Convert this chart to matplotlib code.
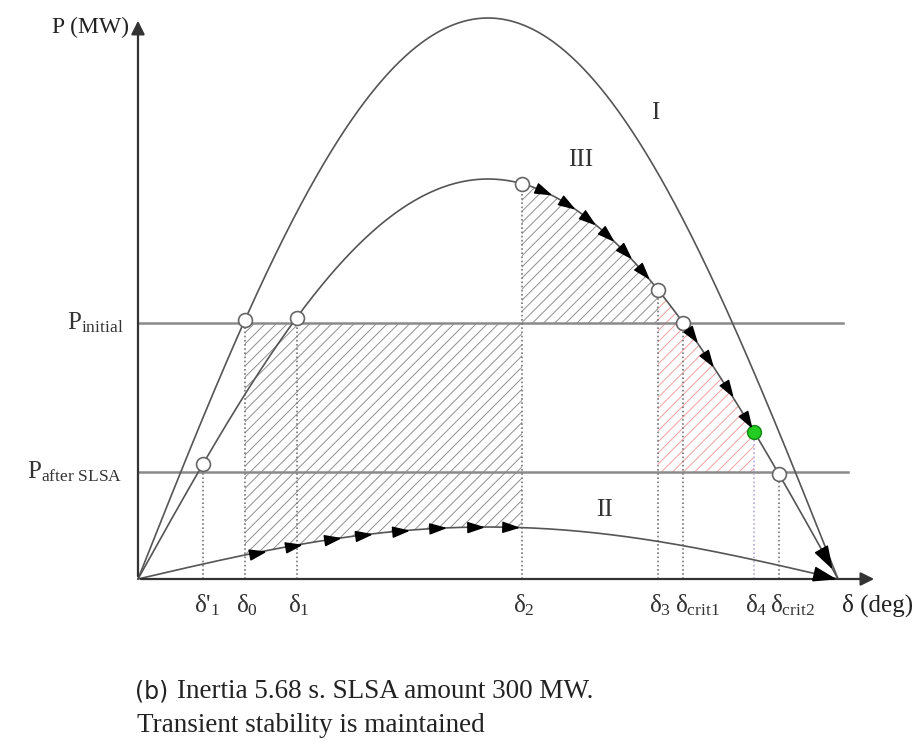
import numpy as np
import matplotlib
matplotlib.use('Agg')
import matplotlib.pyplot as plt
from matplotlib.markers import MarkerStyle
from matplotlib.transforms import Affine2D

plt.rcParams['font.family'] = ['Liberation Serif', 'DejaVu Serif']
plt.rcParams['mathtext.fontset'] = 'custom'
plt.rcParams['mathtext.rm'] = 'Liberation Serif'
plt.rcParams['mathtext.it'] = 'Liberation Serif'
plt.rcParams['hatch.linewidth'] = 0.7

# power-angle curves (peak powers, MW) and power levels
p_max_I = 561
p_max_III = 400
p_max_II = 52
p_initial = 256
p_after = 107

# angles (deg)
delta_names = ["δ'$_1$", "δ$_0$", "δ$_1$", "δ$_2$", "δ$_3$", "δ$_\\mathrm{crit1}$", "δ$_4$", "δ$_\\mathrm{crit2}$"]
delta_vals = [16.7, 27.5, 40.8, 98.7, 133.7, 140.2, 158.4, 164.8]
# which curve each marked point sits on
delta_curve = ['III', 'I', 'III', 'III', 'III', 'III', 'III', 'III']

# arrowheads along the trajectory
arrows_II = [30.6, 39.9, 49.9, 57.9, 67.4, 76.9, 86.7, 95.7]
arrows_III = [104.1, 110.3, 115.7, 120.6, 125.2, 129.9, 142.5, 146.6, 151.7, 156.6]

pmax = {'I': p_max_I, 'II': p_max_II, 'III': p_max_III}


def curve(name, d):
    return pmax[name] * np.sin(np.radians(d))


fig = plt.figure(figsize=(9.24, 7.44), dpi=100)
ax = fig.add_axes([0, 0, 1, 1])
ax.set_xlim(-35.48, 202.1)
ax.set_ylim(-165, 579)
ax.axis('off')

d = np.linspace(0, 180, 600)
for name in ['I', 'III', 'II']:
    ax.plot(d, curve(name, d), color='#555555', lw=1.2, zorder=3)

# hatched areas
d0, d2, d3, d4 = delta_vals[1], delta_vals[3], delta_vals[4], delta_vals[6]
xa = np.linspace(d0, d2, 200)
ax.fill_between(xa, curve('II', xa), p_initial, facecolor='none', edgecolor='#8f8f8f',
                hatch='///', linewidth=0, zorder=1)
xb = np.linspace(d2, d3, 200)
ax.fill_between(xb, p_initial, curve('III', xb), facecolor='none', edgecolor='#8f8f8f',
                hatch='///', linewidth=0, zorder=1)
xc = np.linspace(d3, d4, 200)
ax.fill_between(xc, p_after, curve('III', xc), facecolor='none', edgecolor='#f0a0a0',
                hatch='///', linewidth=0, zorder=1)

# power levels
ax.plot([0, 181.3], [p_initial, p_initial], color='#8a8a8a', lw=1.8, zorder=2)
ax.plot([0, 182.6], [p_after, p_after], color='#8a8a8a', lw=1.8, zorder=2)

# axes with arrows
ax.annotate('', xy=(190.0, 0), xytext=(0, 0),
            arrowprops=dict(arrowstyle='-|>', color='#333333', lw=1.6, mutation_scale=20), zorder=4)
ax.annotate('', xy=(0, 561), xytext=(0, 0),
            arrowprops=dict(arrowstyle='-|>', color='#333333', lw=1.6, mutation_scale=20), zorder=4)

# dotted guides, points and labels
for name, dv, cv in zip(delta_names, delta_vals, delta_curve):
    pv = curve(cv, dv)
    col = '#b8a8d8' if name == "δ$_4$" else '#777777'
    ax.plot([dv, dv], [0, pv], color=col, lw=1.2, ls=(0, (1, 1.5)), zorder=2)
    if name == "δ$_4$":
        ax.plot(dv, pv, 'o', ms=10, mfc='#22cc22', mec='#118811', mew=1, zorder=6)
    else:
        ax.plot(dv, pv, 'o', ms=10, mfc='white', mec='#666666', mew=1.2, zorder=6)
    ax.text(dv - 2.2, -26, name, ha='left', va='center', fontsize=18, color='#333333')

ax.text(181.0, -26, 'δ (deg)', ha='left', va='center', fontsize=18, color='#222222')

head = MarkerStyle([(1, 0), (-1, 0.65), (-1, -0.65), (1, 0)])


def arrowhead(name, dv, size=11):
    pts = ax.transData.transform([(dv, curve(name, dv)), (dv + 0.2, curve(name, dv + 0.2))])
    ang = np.degrees(np.arctan2(pts[1, 1] - pts[0, 1], pts[1, 0] - pts[0, 0]))
    m = head.transformed(Affine2D().rotate_deg(ang))
    ax.plot(dv, curve(name, dv), marker=m, ms=size, color='black', ls='none', zorder=7)


for dv in arrows_II:
    arrowhead('II', dv)
for dv in arrows_III:
    arrowhead('III', dv)
arrowhead('III', 177.0, 15)
arrowhead('II', 176.5, 15)

# labels
ax.text(-2.3, 552, 'P (MW)', ha='right', va='center', fontsize=17, color='#222222')
ax.text(-3.6, p_initial, 'P$_\\mathrm{initial}$', ha='right', va='center', fontsize=18, color='#333333')
ax.text(-4.0, p_after, 'P$_\\mathrm{after\\ SLSA}$', ha='right', va='center', fontsize=18, color='#333333')
ax.text(132.9, 466, 'I', ha='center', va='center', fontsize=18, color='#333333')
ax.text(113.7, 419, 'III', ha='center', va='center', fontsize=18, color='#333333')
ax.text(120.0, 69, 'II', ha='center', va='center', fontsize=18, color='#333333')

# caption
ax.text(-0.8, -113, '(b)', ha='left', va='center', fontsize=17, color='#222222', family='DejaVu Sans')
ax.text(10.0, -113, 'Inertia 5.68 s. SLSA amount 300 MW.', ha='left', va='center',
        fontsize=19.5, color='#222222')
ax.text(-0.3, -147, 'Transient stability is maintained', ha='left', va='center',
        fontsize=19.5, color='#222222')

fig.savefig('out.png', dpi=100)
